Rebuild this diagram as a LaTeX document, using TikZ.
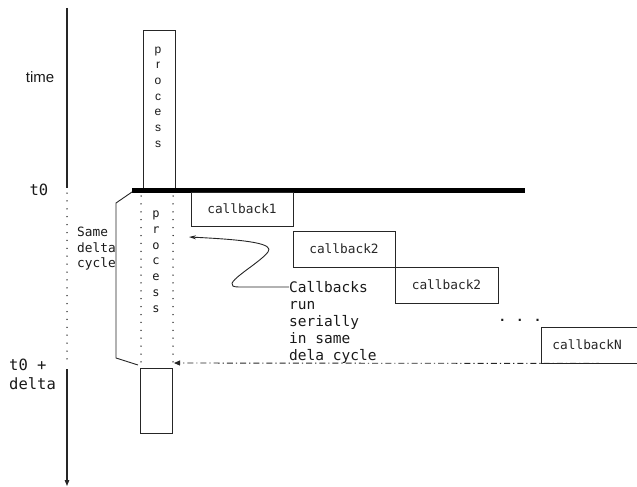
\documentclass[tikz,border=0pt]{standalone}
\usepackage{fontspec}
\setmainfont{Liberation Sans}
\newfontfamily\monofont{DejaVu Sans Mono}
\usetikzlibrary{arrows.meta}
\begin{document}
\begin{tikzpicture}[x=1pt,y=-1pt,
  line/.style={draw=black!85, line width=0.9pt},
  dotline/.style={draw=black!90, line width=1.5pt, line cap=round, dash pattern=on 0pt off 7.9pt},
  cbbox/.style={draw=black!85, line width=0.9pt, inner sep=0pt,
    font=\monofont\fontsize{12.8}{15}\selectfont, text=black!85},
  procbox/.style={draw=black!85, line width=0.9pt, inner sep=0pt, minimum width=32pt},
  lbl/.style={inner sep=0pt, text=black!90},
  mono/.style={lbl, font=\monofont\fontsize{12.8}{15.5}\selectfont, align=left},
]
\useasboundingbox (0,0) rectangle (637,487);

% time axis
\coordinate (ax0) at (67,8);
\coordinate (ax1) at (67,188);
\coordinate (ax2) at (67,193);
\coordinate (ax3) at (67,362);
\coordinate (ax4) at (67,369);
\coordinate (ax5) at (67,486);
\draw[line, line width=1.2pt] (ax0) -- (ax1);
\draw[dotline] (ax2) -- (ax3);
\draw[line, line width=1.2pt, -{Triangle[length=6pt,width=4.5pt]}] (ax4) -- (ax5);

\node[lbl, font=\fontsize{15}{18}\selectfont] (time) at (40,77) {time};
\node[lbl, font=\monofont\fontsize{15.5}{19}\selectfont] (t0) at (39,190) {t0};
\node[lbl, font=\monofont\fontsize{15.5}{19}\selectfont, align=left, anchor=north west]
  (t0d) at (9,358.5) {t0 +\\delta};

% process before t0
\node[procbox, minimum height=159pt, anchor=north] (procA) at (159,30) {};
\node[lbl, font=\fontsize{12}{15.7}\selectfont, align=center, anchor=north]
  (procAtxt) at (158,46.5) {p\\r\\o\\c\\e\\s\\s};

% t0 bar
\coordinate (barL) at (132,190.5);
\coordinate (barR) at (525,190.5);
\draw[draw=black, line width=4.6pt] (barL) -- (barR);

% process inside the delta cycle (dotted)
\coordinate (dl0) at (141,196);
\coordinate (dl1) at (141,364);
\coordinate (dr0) at (173,196);
\coordinate (dr1) at (173,362);
\draw[dotline] (dl0) -- (dl1);
\draw[dotline] (dr0) -- (dr1);
\node[lbl, font=\monofont\fontsize{12}{15.8}\selectfont, align=center, anchor=north]
  (procBtxt) at (156,210.5) {p\\r\\o\\c\\e\\s\\s};

% bracket marking the delta cycle
\coordinate (br0) at (132,192);
\coordinate (br1) at (116,203);
\coordinate (br2) at (116,358);
\coordinate (br3) at (138,365);
\draw[line] (br0) -- (br1) -- (br2) -- (br3);
\node[mono, anchor=north west] (same) at (77,227) {Same\\delta\\cycle};

% process after t0 + delta
\node[procbox, minimum height=65pt, anchor=north] (procC) at (156,368) {};

% callbacks
\node[cbbox, minimum width=102pt, minimum height=34pt] (cb1) at (242,209) {callback1};
\node[cbbox, minimum width=102pt, minimum height=36pt] (cb2) at (344,249) {callback2};
\node[cbbox, minimum width=103pt, minimum height=36pt] (cb3) at (446.5,285) {callback2};
\node[cbbox, minimum height=36pt, anchor=west, align=left, text width=100pt,
  inner xsep=11pt] (cbN) at (541,345) {callbackN};
\node[lbl, font=\monofont\fontsize{12.5}{15}\selectfont\bfseries, anchor=base] (dots) at (520,321) {. . .};

% note on serial execution
\node[lbl, font=\monofont\fontsize{14.5}{17}\selectfont, align=left, anchor=north west]
  (note) at (289,281) {Callbacks\\run\\serially\\in same\\dela cycle};
\coordinate (noteTip) at (189,237);
\draw[line, -{Stealth[length=7pt,width=4pt]}]
  ([yshift=-6pt]note.north west) -- ++(-50,0)
  .. controls (215,287) and (258,265) .. (268,252)
  .. controls (274,244) and (252,240) .. (noteTip);

% return to the process at t0 + delta
\coordinate (retTip) at (174,363);
\draw[draw=black!85, line width=0.9pt, dash pattern=on 6pt off 3pt on 1.2pt off 3pt,
  -{Triangle[length=6pt,width=5pt]}] (cbN.south) -- (retTip);
\end{tikzpicture}
\end{document}
